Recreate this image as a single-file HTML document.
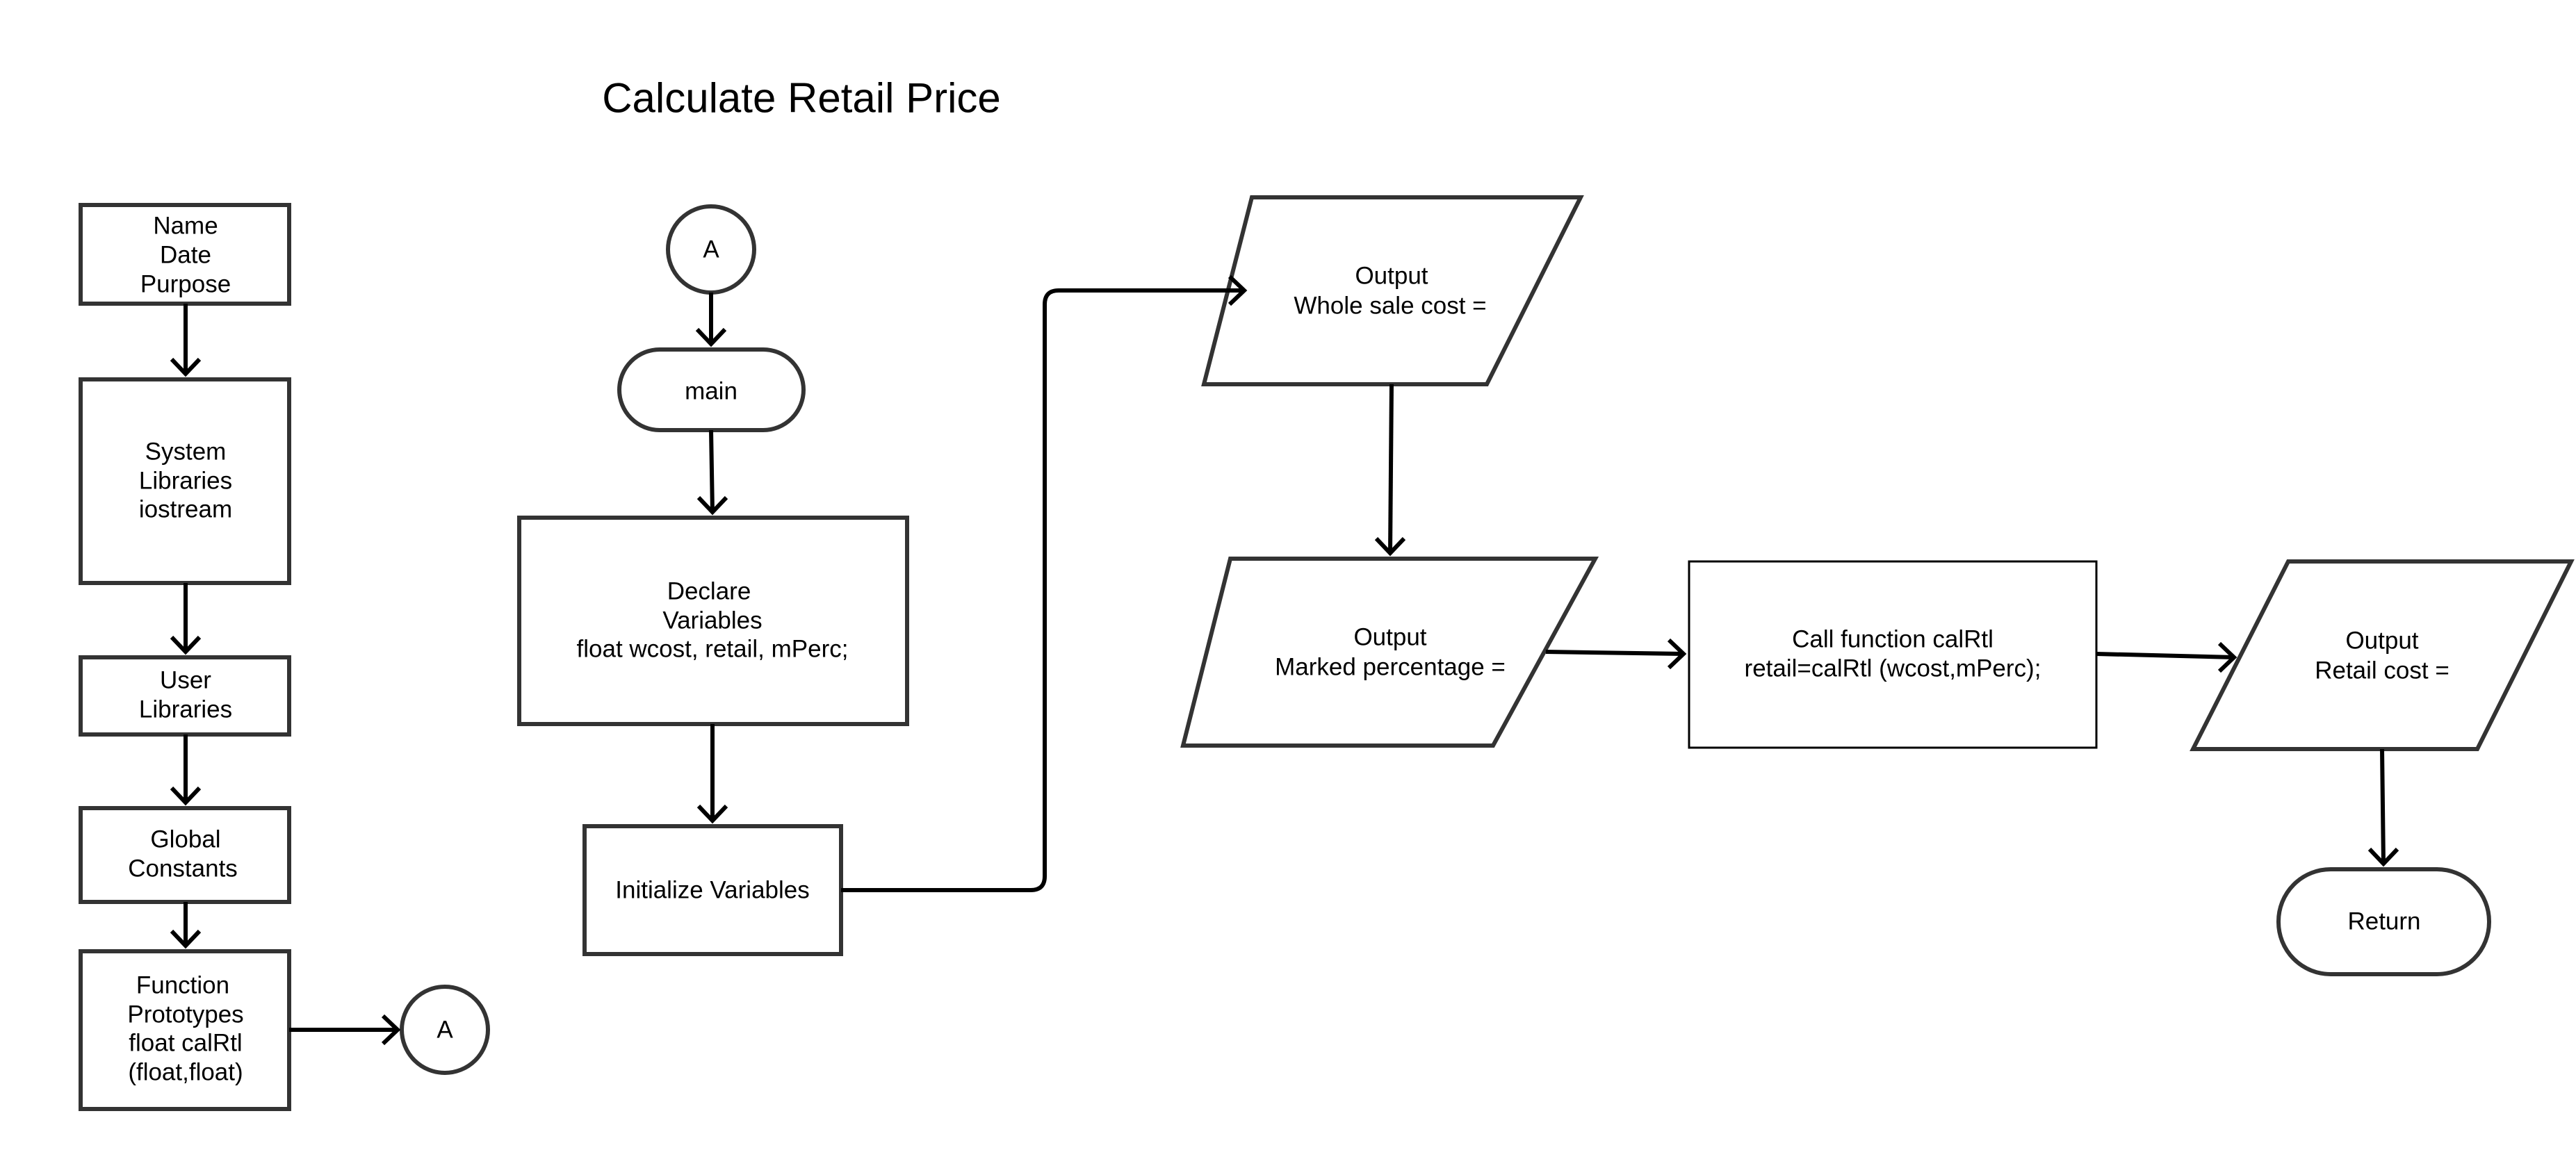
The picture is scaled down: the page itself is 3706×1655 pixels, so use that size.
<!DOCTYPE html>
<html><head><meta charset="utf-8"><style>html,body{margin:0;padding:0;background:#fff}svg{display:block}</style></head>
<body>
<svg width="3706" height="1655" viewBox="0 0 3706 1655" xmlns="http://www.w3.org/2000/svg">
<g font-family="'Liberation Sans', sans-serif" font-size="33" fill="#000" text-anchor="middle" dominant-baseline="central">
<text x="1153" y="141" font-size="60">Calculate Retail Price</text>
</g>
<g fill="#fff" stroke="#333" stroke-width="6">
<rect x="116" y="295" width="300" height="142"/>
<rect x="116" y="546" width="300" height="293"/>
<rect x="116" y="946" width="300" height="111"/>
<rect x="116" y="1163" width="300" height="135"/>
<rect x="116" y="1369" width="300" height="227"/>
<circle cx="640" cy="1482" r="62"/>
<circle cx="1023" cy="359" r="62"/>
<rect x="891" y="503" width="265" height="116" rx="58"/>
<rect x="747" y="745" width="558" height="297"/>
<rect x="841" y="1189" width="369" height="184"/>
<polygon points="1801,284 2274,284 2139,553 1732,553"/>
<polygon points="1770,804 2295,804 2148,1073 1702,1073"/>
<rect x="2430" y="808" width="586" height="268" stroke-width="3" stroke="#000"/>
<polygon points="3292,808 3699,808 3564,1078 3155,1078"/>
<rect x="3278" y="1251" width="303" height="151" rx="75"/>
</g>
<g fill="none" stroke="#000" stroke-width="6">
<path d="M267,437 V538" /><path d="M247,517 L267,538 L287,517"/>
<path d="M267,839 V938" /><path d="M247,917 L267,938 L287,917"/>
<path d="M267,1057 V1155" /><path d="M247,1134 L267,1155 L287,1134"/>
<path d="M267,1298 V1361" /><path d="M247,1340 L267,1361 L287,1340"/>
<path d="M416,1482 H572" /><path d="M551,1462 L572,1482 L551,1502"/>
<path d="M1023,421 V495" /><path d="M1003,474 L1023,495 L1043,474"/>
<path d="M1023,619 L1025,737" /><path d="M1005,716 L1025,737 L1045,716"/>
<path d="M1025,1042 V1181" /><path d="M1005,1160 L1025,1181 L1045,1160"/>
<path d="M1210,1281 H1483 Q1503,1281 1503,1261 V438 Q1503,418 1523,418 H1790" /><path d="M1769,398 L1790,418 L1769,438"/>
<path d="M2002,553 L2000,796" /><path d="M1980,775 L2000,796 L2020,775"/>
<path d="M2224,938 L2422,941" /><path d="M2401,921 L2422,941 L2401,961"/>
<path d="M3016,941 L3214,946" /><path d="M3193,926 L3214,946 L3193,966"/>
<path d="M3427,1078 L3429,1243" /><path d="M3409,1222 L3429,1243 L3449,1222"/>
</g>
<g font-family="'Liberation Sans', sans-serif" font-size="35" fill="#000" text-anchor="middle" dominant-baseline="central">
<text x="267" y="325">Name</text><text x="267" y="367">Date</text><text x="267" y="409">Purpose</text>
<text x="267" y="650">System</text><text x="267" y="692">Libraries</text><text x="267" y="733">iostream</text>
<text x="267" y="979">User</text><text x="267" y="1021">Libraries</text>
<text x="267" y="1208">Global</text><text x="263" y="1250">Constants</text>
<text x="263" y="1418">Function</text><text x="267" y="1460">Prototypes</text><text x="267" y="1501">float calRtl</text><text x="267" y="1543">(float,float)</text>
<text x="640" y="1482">A</text>
<text x="1023" y="359">A</text>
<text x="1023" y="563">main</text>
<text x="1020" y="851">Declare</text><text x="1025" y="893">Variables</text><text x="1025" y="934">float wcost, retail, mPerc;</text>
<text x="1025" y="1281">Initialize Variables</text>
<text x="2002" y="397">Output</text><text x="2000" y="440">Whole sale cost =</text>
<text x="2000" y="917">Output</text><text x="2000" y="960">Marked percentage =</text>
<text x="2723" y="920">Call function calRtl</text><text x="2723" y="962">retail=calRtl (wcost,mPerc);</text>
<text x="3427" y="922">Output</text><text x="3427" y="965">Retail cost =</text>
<text x="3430" y="1326">Return</text>
</g>
</svg>
</body></html>
